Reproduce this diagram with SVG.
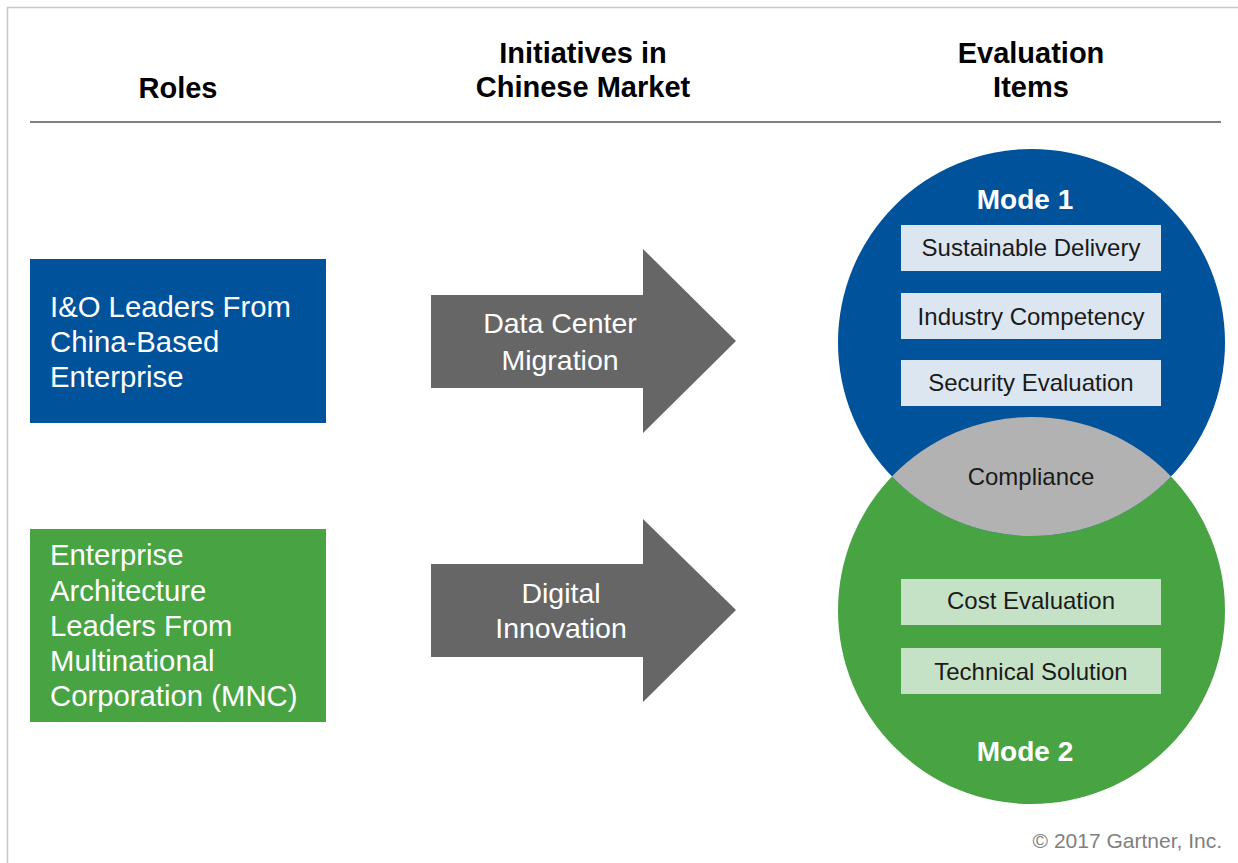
<svg xmlns="http://www.w3.org/2000/svg" width="1238" height="863" viewBox="0 0 1238 863">
<style>
text{font-family:"Liberation Sans",Arial,sans-serif}
.hdr{font-size:29px;font-weight:bold;fill:#000;text-anchor:middle}
.lbl{font-size:29.3px;fill:#fff}
.arr{font-size:28.5px;fill:#fff;text-anchor:middle}
.item{font-size:24px;fill:#1a1a1a;text-anchor:middle}
.mode{font-size:28px;font-weight:bold;fill:#fff;text-anchor:middle}
.bbox{fill:#DCE6F1}
.gbox{fill:#C6E2C6}
.arrow{fill:#666666}
</style>
<rect width="1238" height="863" fill="#fff"/>
<g id="frame">
<line x1="7" y1="7.5" x2="1238" y2="7.5" stroke="#c8c8c8" stroke-width="1.5"/>
<line x1="7.5" y1="7" x2="7.5" y2="863" stroke="#c8c8c8" stroke-width="1.5"/>
</g>
<g id="headers">
<text class="hdr" x="178" y="98">Roles</text>
<text class="hdr" x="583" y="63">Initiatives in</text>
<text class="hdr" x="583" y="97">Chinese Market</text>
<text class="hdr" x="1031" y="63">Evaluation</text>
<text class="hdr" x="1031" y="97">Items</text>
<line x1="30" y1="122" x2="1221" y2="122" stroke="#7f7f7f" stroke-width="2.2"/>
</g>
<g id="role-io">
<rect x="30" y="259" width="296" height="164" fill="#00529B"/>
<text class="lbl" x="50" y="317">I&amp;O Leaders From</text>
<text class="lbl" x="50" y="352">China-Based</text>
<text class="lbl" x="50" y="387">Enterprise</text>
</g>
<g id="role-ea">
<rect x="30" y="529" width="296" height="193" fill="#48A443"/>
<text class="lbl" x="50" y="565">Enterprise</text>
<text class="lbl" x="50" y="601">Architecture</text>
<text class="lbl" x="50" y="636">Leaders From</text>
<text class="lbl" x="50" y="671">Multinational</text>
<text class="lbl" x="50" y="706">Corporation (MNC)</text>
</g>
<g id="connectors">
<g id="arrow-dcm">
<polygon class="arrow" points="431,295 643,295 643,249 736,341 643,433 643,388 431,388"/>
<text class="arr" x="560" y="333">Data Center</text>
<text class="arr" x="560" y="370">Migration</text>
</g>
<g id="arrow-di">
<polygon class="arrow" points="431,564 643,564 643,519 736,610 643,702 643,657 431,657"/>
<text class="arr" x="561" y="603">Digital</text>
<text class="arr" x="561" y="638">Innovation</text>
</g>
</g>
<g id="mode2">
<circle cx="1031.5" cy="610.5" r="193.5" fill="#48A443"/>
<rect class="gbox" x="901" y="579" width="260" height="46"/>
<text class="item" x="1031" y="609">Cost Evaluation</text>
<rect class="gbox" x="901" y="648" width="260" height="46"/>
<text class="item" x="1031" y="680">Technical Solution</text>
<text class="mode" x="1025" y="761">Mode 2</text>
</g>
<g id="mode1">
<circle cx="1031.5" cy="342.5" r="193.5" fill="#00529B"/>
<text class="mode" x="1025" y="209">Mode 1</text>
<rect class="bbox" x="901" y="225" width="260" height="46"/>
<text class="item" x="1031" y="256">Sustainable Delivery</text>
<rect class="bbox" x="901" y="293" width="260" height="46"/>
<text class="item" x="1031" y="325">Industry Competency</text>
<rect class="bbox" x="901" y="360" width="260" height="46"/>
<text class="item" x="1031" y="391">Security Evaluation</text>
</g>
<g id="compliance">
<path d="M891.9 476.5 A193.5 193.5 0 0 1 1171.1 476.5 A193.5 193.5 0 0 1 891.9 476.5 Z" fill="#B2B2B2"/>
<text class="item" x="1031" y="485">Compliance</text>
</g>
<text x="1222" y="848" font-size="21" fill="#808080" text-anchor="end">© 2017 Gartner, Inc.</text>
</svg>
